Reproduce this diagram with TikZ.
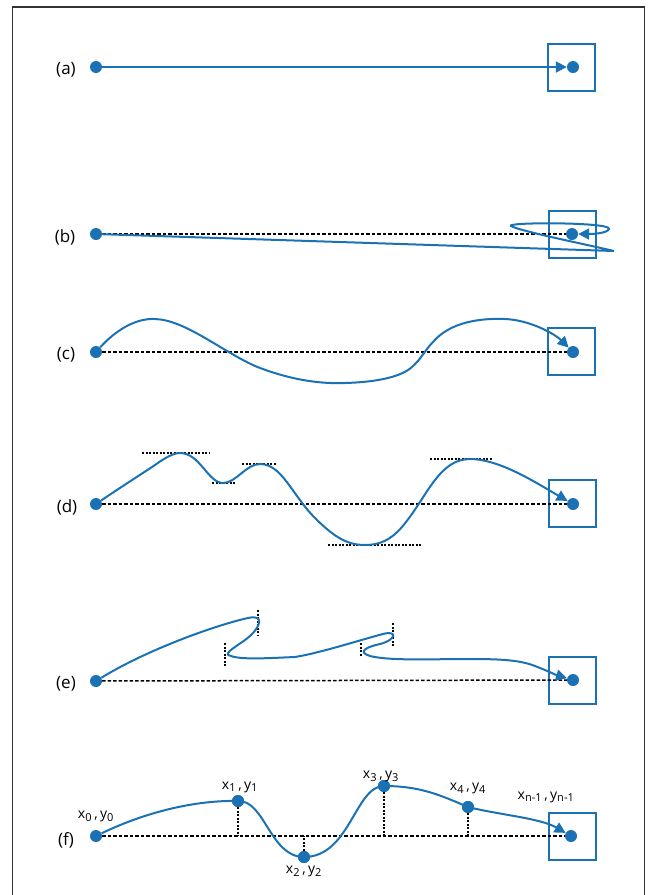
\documentclass[tikz,border=0pt]{standalone}
\usepackage{fontspec}
\setmainfont{Open Sans}
\usetikzlibrary{arrows.meta}
\definecolor{cblue}{RGB}{26,114,180}
\definecolor{frame}{RGB}{50,50,50}
\tikzset{
  curve/.style={draw=cblue, line width=2pt, -{Triangle[length=11pt,width=11pt]}},
  base/.style={draw=black, line width=1.5pt, dash pattern=on 3.5pt off 2pt},
  extr/.style={draw=black, line width=1.5pt, dash pattern=on 2pt off 1.5pt},
  dotn/.style={circle, fill=cblue, inner sep=0pt, minimum size=12pt},
  target/.style={draw=cblue, line width=2pt, minimum size=47pt, inner sep=0pt},
  rowlab/.style={font=\fontsize{17}{19}\selectfont, text=black},
  ptlab/.style={font=\fontsize{14}{16}\selectfont, text=black, inner sep=0pt},
}
\newcommand{\subidx}[1]{\textsubscript{\fontsize{11}{12}\selectfont #1}}
\begin{document}
\begin{tikzpicture}[x=1pt,y=-1pt]
\useasboundingbox (0,0) rectangle (650,895);
\draw[frame, line width=1.5pt] (12.5,905) -- (12.5,7) -- (644.5,7) -- (644.5,905);

% (a)
\node[rowlab] (la) at (66,70) {(a)};
\node[target] (ta) at (571,67) {};
\node[dotn] (a0) at (96,67) {};
\node[dotn] (a1) at (573,67) {};
\draw[curve] (a0) -- (a1);

% (b)
\node[rowlab] (lb) at (65,237) {(b)};
\node[target] (tb) at (572,234) {};
\node[dotn] (b0) at (96,234) {};
\node[dotn] (b1) at (572,234) {};
\draw[base] (b0) -- (b1);
\draw[curve] (b0) -- (614,251) .. controls (575,242) and (520,231) .. (511,226)
  .. controls (505,222) and (612,222) .. (609,229)
  .. controls (607,233) and (595,234) .. (b1);

% (c)
\node[rowlab] (lc) at (66,355) {(c)};
\node[target] (tc) at (571,351) {};
\node[dotn] (c0) at (96,352) {};
\node[dotn] (c1) at (573,352) {};
\draw[base] (c0) -- (c1);
\draw[curve] (c0) .. controls (115,331) and (135,318) .. (155,319)
  .. controls (185,320) and (220,350) .. (255,366)
  .. controls (290,380) and (320,384) .. (345,383)
  .. controls (380,382) and (402,376) .. (412,367)
  .. controls (422,358) and (425,350) .. (433,342)
  .. controls (450,322) and (480,318) .. (505,319)
  .. controls (530,320) and (555,334) .. (c1);

% (d)
\node[rowlab] (ld) at (67,507) {(d)};
\node[target] (td) at (572,503) {};
\node[dotn] (d0) at (96,504) {};
\node[dotn] (d1) at (573,504) {};
\draw[base] (d0) -- (d1);
\coordinate (d1a) at (142,453); \coordinate (d1b) at (210,453);
\coordinate (d2a) at (212,483); \coordinate (d2b) at (235,483);
\coordinate (d3a) at (242,464); \coordinate (d3b) at (276,464);
\coordinate (d4a) at (328,545); \coordinate (d4b) at (421,545);
\coordinate (d5a) at (430,459); \coordinate (d5b) at (492,459);
\draw[extr] (d1a) -- (d1b);
\draw[extr] (d2a) -- (d2b);
\draw[extr] (d3a) -- (d3b);
\draw[extr] (d4a) -- (d4b);
\draw[extr] (d5a) -- (d5b);
\draw[curve] (d0) .. controls (118,489) and (140,475) .. (155,465)
  .. controls (166,457) and (174,453) .. (180,453)
  .. controls (200,453) and (208,483) .. (223,483)
  .. controls (236,483) and (246,464) .. (260,464)
  .. controls (282,464) and (292,495) .. (315,518)
  .. controls (335,538) and (348,545) .. (365,545)
  .. controls (385,545) and (396,535) .. (406,522)
  .. controls (428,494) and (440,459) .. (470,459)
  .. controls (500,459) and (538,484) .. (d1);

% (e)
\node[rowlab] (le) at (66,684) {(e)};
\node[target] (te) at (572,680) {};
\node[dotn] (e0) at (96,681) {};
\node[dotn] (e1) at (573,680) {};
\draw[base] (e0) -- (e1);
\coordinate (e1a) at (258,610); \coordinate (e1b) at (258,635);
\coordinate (e2a) at (225,643); \coordinate (e2b) at (225,666);
\coordinate (e3a) at (393,623); \coordinate (e3b) at (393,647);
\coordinate (e4a) at (361,643); \coordinate (e4b) at (361,657);
\draw[extr] (e1a) -- (e1b);
\draw[extr] (e2a) -- (e2b);
\draw[extr] (e3a) -- (e3b);
\draw[extr] (e4a) -- (e4b);
\draw[curve] (e0) .. controls (150,648) and (220,624) .. (248,618)
  .. controls (266,614) and (259,628) .. (250,636)
  .. controls (240,645) and (220,654) .. (231,656)
  .. controls (242,660) and (270,658) .. (295,657)
  .. controls (320,653) and (360,640) .. (383,634)
  .. controls (398,630) and (396,640) .. (380,644)
  .. controls (366,647) and (357,652) .. (370,656)
  .. controls (390,661) and (430,659) .. (470,659)
  .. controls (500,659) and (520,660) .. (535,666)
  .. controls (548,671) and (556,675) .. (e1);

% (f)
\node[rowlab] (lf) at (66,840) {(f)};
\node[target] (tf) at (572,836) {};
\node[dotn] (f0) at (96,836) {};
\node[dotn] (f1) at (238,801) {};
\node[dotn] (f2) at (304,857) {};
\node[dotn] (f3) at (384,786) {};
\node[dotn] (f4) at (468,807) {};
\node[dotn] (fn) at (571,836) {};
\draw[base] (f0) -- (fn);
\coordinate (f1b) at (238,836);
\coordinate (f2b) at (304,836);
\coordinate (f3b) at (384,836);
\coordinate (f4b) at (468,836);
\draw[extr] (f1) -- (f1b);
\draw[extr] (f2) -- (f2b);
\draw[extr] (f3) -- (f3b);
\draw[extr] (f4) -- (f4b);
\draw[curve] (f0) .. controls (150,810) and (200,800) .. (f1.center)
  .. controls (265,800) and (270,857) .. (f2.center)
  .. controls (350,857) and (355,786) .. (f3.center)
  .. controls (420,786) and (440,795) .. (f4.center)
  .. controls (500,815) and (540,818) .. (fn);
\node[dotn] at (f1) {};
\node[dotn] at (f2) {};
\node[dotn] at (f3) {};
\node[dotn] at (f4) {};
\node[ptlab] (l0) at (96,816) {x\subidx{0}\,,\,y\subidx{0}};
\node[ptlab] (l1) at (240,787) {x\subidx{1}\,,\,y\subidx{1}};
\node[ptlab] (l2) at (304,871) {x\subidx{2}\,,\,y\subidx{2}};
\node[ptlab] (l3) at (381,776) {x\subidx{3}\,,\,y\subidx{3}};
\node[ptlab] (l4) at (468,788) {x\subidx{4}\,,\,y\subidx{4}};
\node[ptlab] (ln) at (546,797) {x\subidx{n-1}\,,\,y\subidx{n-1}};
\end{tikzpicture}
\end{document}
